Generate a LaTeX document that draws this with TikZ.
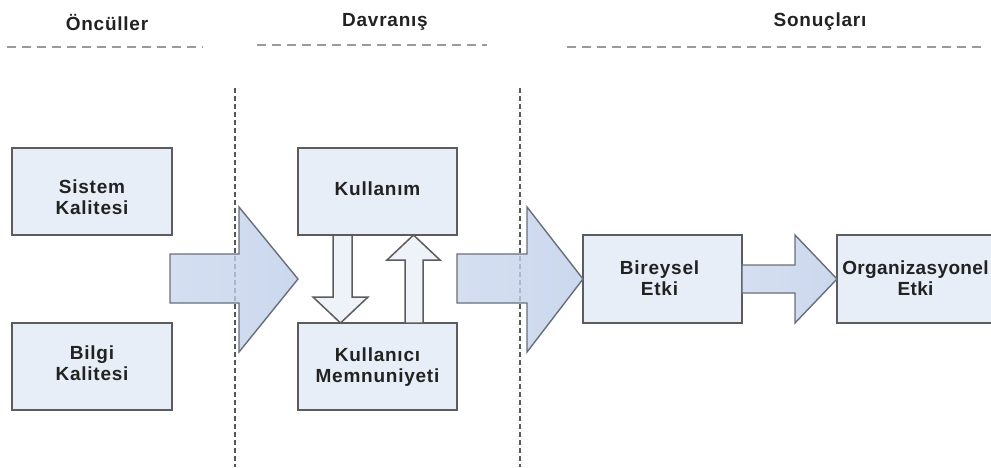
\documentclass[tikz,border=0pt]{standalone}
\usepackage{fontspec}
\setmainfont{Liberation Sans}[LetterSpace=4]
\definecolor{boxfill}{HTML}{E8EEF8}
\definecolor{boxline}{HTML}{5C5C5C}
\definecolor{arrL}{HTML}{CAD6EE}
\definecolor{arrR}{HTML}{BCCDE8}
\definecolor{arrline}{HTML}{686E7A}
\definecolor{smallfill}{HTML}{EEF2F9}
\definecolor{txt}{HTML}{222222}
\definecolor{hdash}{HTML}{9A9A9A}
\definecolor{vdash}{HTML}{585858}
\tikzset{
  box/.style={draw=boxline, line width=1.8pt, fill=boxfill, rectangle, inner sep=0pt},
  lbl/.style={align=center, text=txt, inner sep=0pt, font=\fontsize{19}{21}\selectfont\bfseries},
  hdr/.style={text=txt, font=\fontsize{19}{21}\selectfont\bfseries, inner sep=0pt},
  hline/.style={draw=hdash, line width=2pt, dash pattern=on 9pt off 6pt},
  vline/.style={draw=vdash, line width=2.4pt, dash pattern=on 5pt off 3pt},
  bigarrow/.style={draw=arrline, line width=1.4pt, left color=arrL, right color=arrR, fill opacity=0.78},
  smallarrow/.style={draw=boxline, line width=1.5pt, fill=smallfill}
}
\begin{document}
\begin{tikzpicture}[x=1pt,y=-1pt]
\useasboundingbox (0,0) rectangle (991,467);
% headers
\node[hdr] (h1) at (107,22) {Öncüller};
\node[hdr] (h2) at (385,22) {Davranış};
\node[hdr] (h3) at (820,22) {Sonuçları};
\coordinate (l1a) at (7,47); \coordinate (l1b) at (203,47);
\coordinate (l2a) at (257,45); \coordinate (l2b) at (487,45);
\coordinate (l3a) at (567,47); \coordinate (l3b) at (985,47);
\draw[hline] (l1a) -- (l1b);
\draw[hline] (l2a) -- (l2b);
\draw[hline] (l3a) -- (l3b);
% vertical separators
\coordinate (v1a) at (235,88); \coordinate (v1b) at (235,467);
\coordinate (v2a) at (520,88); \coordinate (v2b) at (520,467);
\draw[vline] (v1a) -- (v1b);
\draw[vline] (v2a) -- (v2b);
% boxes
\node[box, minimum width=160pt, minimum height=87pt,
  label={[lbl, yshift=-6pt]center:{Sistem\\Kalitesi}}] (sis) at (92,191.5) {};
\node[box, minimum width=160pt, minimum height=87pt,
  label={[lbl, yshift=3pt]center:{Bilgi\\Kalitesi}}] (bil) at (92,366.5) {};
\node[box, minimum width=159pt, minimum height=87pt,
  label={[lbl, yshift=3pt]center:{Kullanım}}] (kul) at (377.5,191.5) {};
\node[box, minimum width=159pt, minimum height=87pt,
  label={[lbl, yshift=-1pt]center:{Kullanıcı\\Memnuniyeti}}] (mem) at (377.5,366.5) {};
\node[box, minimum width=159pt, minimum height=88pt,
  label={[lbl, yshift=1pt, xshift=-3pt]center:{Bireysel\\Etki}}] (bir) at (662.5,279) {};
\node[box, minimum width=163pt, minimum height=88pt,
  label={[lbl, yshift=1pt, xshift=-3pt, font=\fontsize{19}{21}\selectfont\bfseries\addfontfeature{LetterSpace=2}]center:{Organizasyonel\\Etki}}] (org) at (918.5,279) {};
% big arrows
\path[bigarrow] (170,254) -- (239,254) -- (239,207) -- (298,279) -- (239,352) -- (239,303) -- (170,303) -- cycle;
\path[bigarrow] (457,254) -- (527,254) -- (527,207) -- (583,279) -- (527,352) -- (527,303) -- (457,303) -- cycle;
\path[bigarrow] (742,265) -- (795,265) -- (795,235) -- (837,279) -- (795,323) -- (795,293) -- (742,293) -- cycle;
% small arrows between Kullanim and Memnuniyeti
\path[smallarrow] (333,235) -- (352,235) -- (352,297) -- (368,297) -- (340.5,323) -- (313,297) -- (333,297) -- cycle;
\path[smallarrow] (405,323) -- (405,260) -- (387,260) -- (413.5,235) -- (440,260) -- (423,260) -- (423,323) -- cycle;
\end{tikzpicture}
\end{document}
